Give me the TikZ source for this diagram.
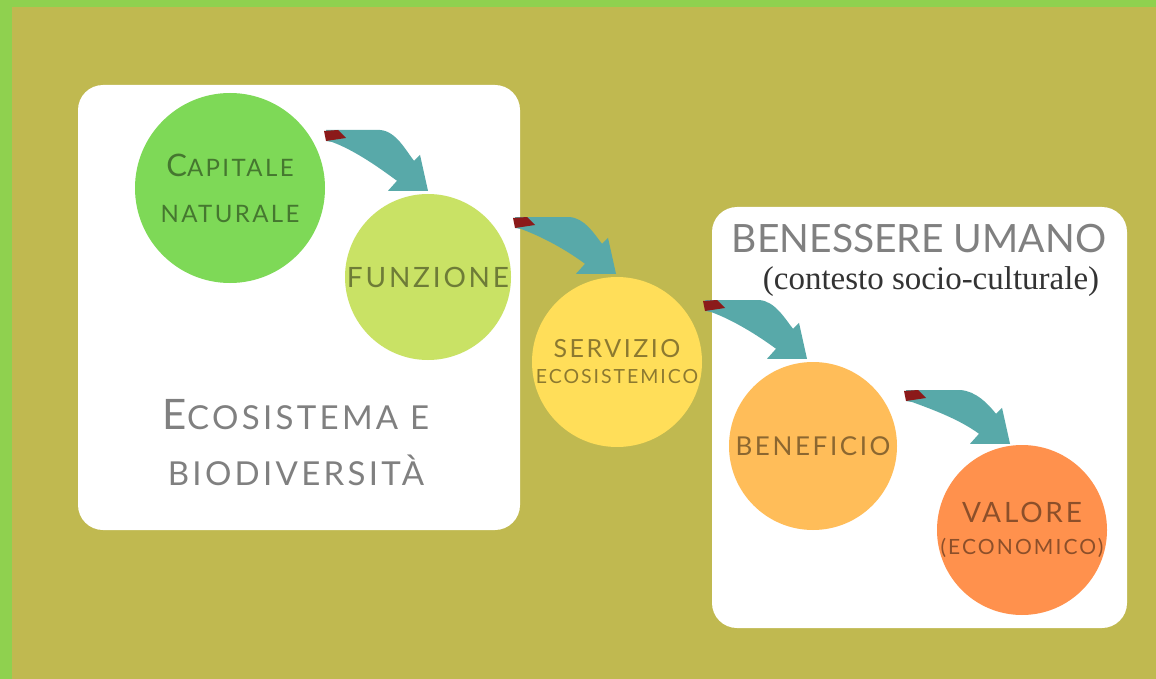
\documentclass[tikz,border=0pt]{standalone}
\usepackage{fontspec}
\setmainfont{Lato}
\newfontfamily\spacedfont{Lato}[LetterSpace=10]
\newfontfamily\notefont{Liberation Serif}
\usepackage{tikz}
\usetikzlibrary{calc}
\definecolor{bordergreen}{HTML}{8FD14F}
\definecolor{olivebg}{HTML}{C0B950}
\definecolor{swooshteal}{HTML}{58A9A9}
\definecolor{tailred}{HTML}{8B1A1A}
\definecolor{capgreen}{HTML}{7ED957}
\definecolor{funlime}{HTML}{C9E265}
\definecolor{servyellow}{HTML}{FFDE59}
\definecolor{benorange}{HTML}{FFBD59}
\definecolor{valorange}{HTML}{FF914D}
\newcommand{\sz}[2]{\fontsize{#1}{#2}\selectfont}
\tikzstyle{stagecircle} = [circle, inner sep=-15pt, text centered, align=center, text=black, text opacity=0.45]
\tikzstyle{panel} = [fill=white, rounded corners=25pt]
\tikzstyle{paneltitle} = [text=black!50, align=center]
\newcommand{\swoosh}[2]{%
  \fill[swooshteal] (#1) -- ($(#1)+(54,0)$) .. controls ($(#1)+(70,1)$) and ($(#2)+(-22,-40)$) .. ($(#2)+(-14,-30)$)
    -- ($(#2)+(-8,-36)$) -- (#2) -- ($(#2)+(-40,0)$) -- ($(#2)+(-31,-10)$)
    .. controls ($(#2)+(-50,-24)$) and ($(#1)+(28,20)$) .. ($(#1)+(6,12)$) -- ($(#1)+(0,11)$) -- cycle;
  \fill[tailred] ($(#1)+(-2,1)$) -- ($(#1)+(12,0)$) -- ($(#1)+(20,8)$) -- ($(#1)+(0,11)$) -- cycle;}

\begin{document}
\begin{tikzpicture}[x=1pt, y=-1pt]
    \useasboundingbox (0,0) rectangle (1156,679);
    \fill[bordergreen] (0,0) rectangle (1156,679);
    \fill[olivebg] (12,7) rectangle (1156,679);
    \fill[panel] (78,85) rectangle (520,530);
    \fill[panel] (712,207) rectangle (1127,628);

    \node (capitale) [stagecircle, fill=capgreen, minimum size=190pt, font=\spacedfont\sz{24}{46}] at (230,188) {{\sz{31}{46}C}APITALE\\NATURALE};
    \node (funzione) [stagecircle, fill=funlime, minimum size=166pt, font=\spacedfont\sz{28}{30}] at (428,277) {FUNZIONE};
    \node (servizio) [stagecircle, fill=servyellow, minimum size=170pt, font=\spacedfont\sz{25}{26}] at (617,362) {SERVIZIO\\{\sz{19.5}{22}ECOSISTEMICO}};
    \node (beneficio) [stagecircle, fill=benorange, minimum size=168pt, font=\spacedfont\sz{26}{28}] at (813,446) {BENEFICIO};
    \node (valore) [stagecircle, fill=valorange, minimum size=170pt, font=\spacedfont\sz{28}{32}] at (1022,530) {VALORE\\{\sz{21}{24}(ECONOMICO)}};

    \node (ecotitle) [paneltitle, font=\spacedfont\sz{33}{56}] at (296,443) {{\sz{42}{56}E}COSISTEMA E\\BIODIVERSITÀ};
    \node (benessere) [paneltitle, font=\sz{39}{40}] at (919,239) {BENESSERE UMANO};
    \node (contesto) [text=black!80, font=\notefont\sz{33}{34}] at (931,282) {(contesto socio-culturale)};

    \coordinate (s1) at ($(capitale)+(96,-58)$);
    \coordinate (s2) at ($(funzione)+(87,-60)$);
    \coordinate (s3) at ($(servizio)+(88,-62)$);
    \coordinate (s4) at ($(beneficio)+(93,-56)$);
    \coordinate (e1) at ($(funzione.north)+(0,-3)$);
    \coordinate (e2) at ($(servizio.north)+(-1,-3)$);
    \coordinate (e3) at ($(beneficio.north)+(-6,-3)$);
    \coordinate (e4) at ($(valore.north)+(-12,-1)$);
    \swoosh{s1}{e1}
    \swoosh{s2}{e2}
    \swoosh{s3}{e3}
    \swoosh{s4}{e4}
\end{tikzpicture}
\end{document}
